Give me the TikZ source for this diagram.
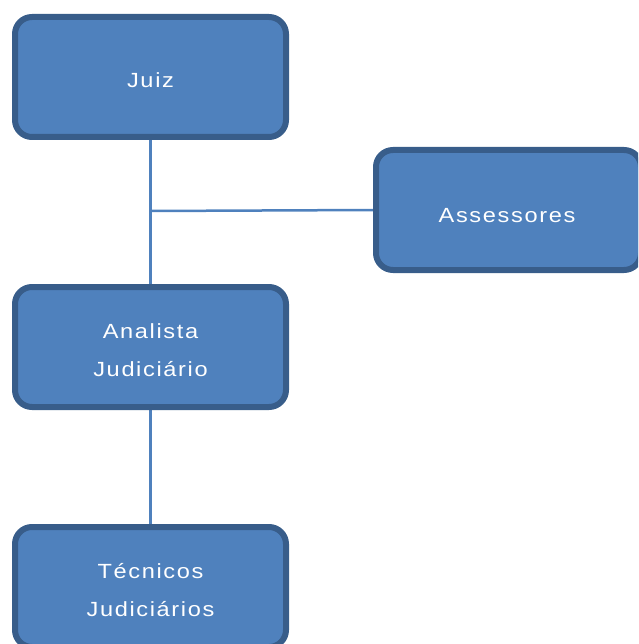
\documentclass[tikz,border=0pt]{standalone}
\usepackage{fontspec}
\setmainfont{Liberation Sans}[FakeStretch=1.15,LetterSpace=8]
\usetikzlibrary{backgrounds}
\newcommand{\boxtext}[2][-3pt]{\raisebox{#1}[\height][\depth]{\begin{tabular}{@{}c@{}}#2\end{tabular}}}
\begin{document}
\begin{tikzpicture}[x=1pt,y=-1pt,
  orgbox/.style={draw=boxborder, fill=boxfill, line width=6pt, rounded corners=17pt,
    minimum width=271pt, minimum height=120pt, inner sep=0pt, text=white,
    font=\fontsize{20.5pt}{38pt}\selectfont, align=center},
  link/.style={draw=boxfill, line width=2.5pt}]
\definecolor{boxfill}{HTML}{4F81BD}
\definecolor{boxborder}{HTML}{385D8A}
\useasboundingbox (0,0) rectangle (638,644);
\clip (0,0) rectangle (638,644);
\coordinate (j) at (150.5,211);
\node[orgbox] (juiz) at (150.5,77) {\boxtext{Juiz}};
\node[orgbox, minimum width=265pt] (ass) at (508.5,210) {\hspace*{-3pt}\boxtext[-5pt]{Assessores}};
\node[orgbox] (ana) at (150.5,347) {\boxtext{Analista\\Judiciário}};
\node[orgbox] (tec) at (150.5,587) {\boxtext{Técnicos\\Judiciários}};
\begin{scope}[on background layer]
\draw[link] (juiz.south) -- (ana.north);
\draw[link] (j) -- (ass.west);
\draw[link] (ana.south) -- (tec.north);
\end{scope}
\end{tikzpicture}
\end{document}
